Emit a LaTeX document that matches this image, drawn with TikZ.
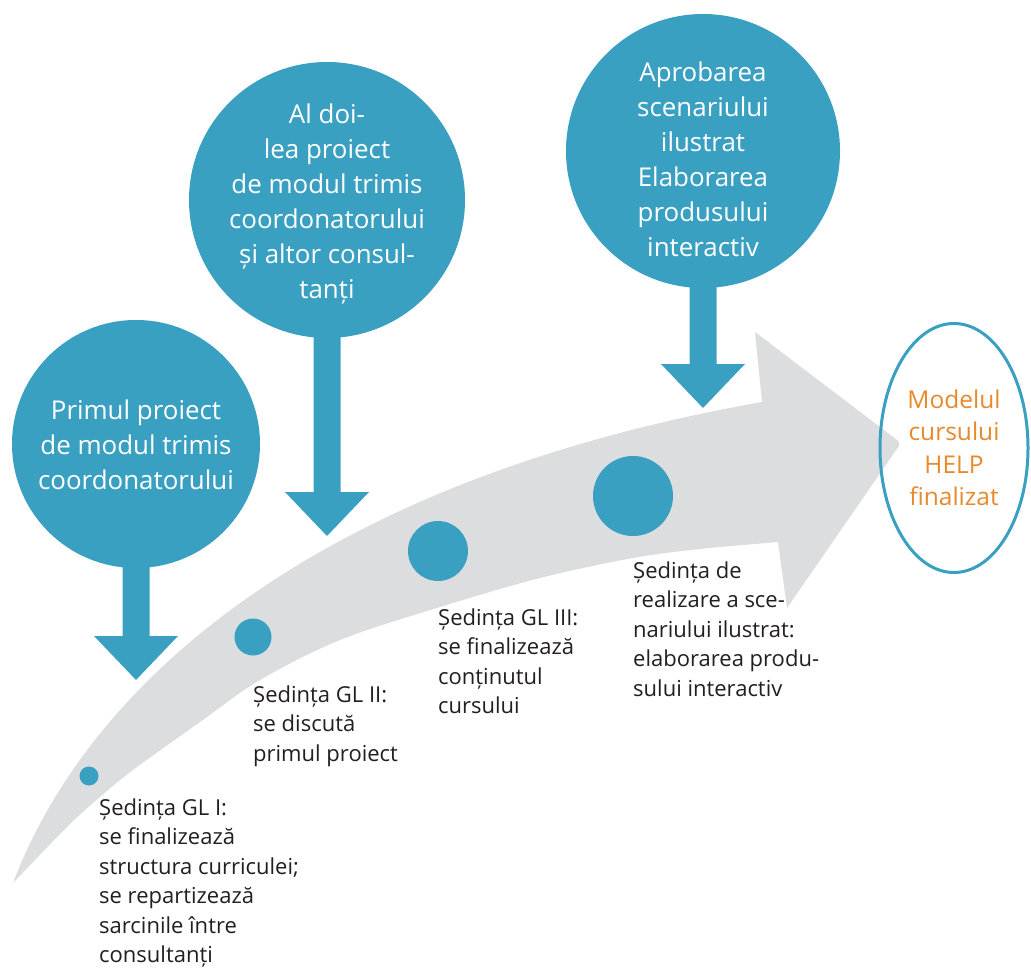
\documentclass[tikz,border=0pt]{standalone}
\usepackage{fontspec}
\setmainfont{Open Sans}
\usetikzlibrary{shapes.geometric}

\definecolor{bubbleblue}{RGB}{58,160,193}
\definecolor{bandgray}{RGB}{220,221,222}
\definecolor{labelink}{RGB}{35,31,32}
\definecolor{helporange}{RGB}{232,137,44}

% block arrow pointing down from a bubble (#1) to a tip coordinate (#2)
\newcommand\bubblepointer[2]{%
  \fill[pointer] ([shift={(-13.5,-8)}]#1.south) -- ([shift={(-13.5,-44)}]#2)
    -- ([shift={(-42,-44)}]#2) -- (#2) -- ([shift={(42,-44)}]#2)
    -- ([shift={(13.5,-44)}]#2) -- ([shift={(13.5,-8)}]#1.south) -- cycle;}

\begin{document}
\begin{tikzpicture}[x=1pt,y=-1pt,
  bubble/.style={circle, fill=bubbleblue, inner sep=0pt},
  bubbletext/.style={text=white, align=center, inner sep=0pt,
    font=\fontsize{25.9}{35}\selectfont},
  stage/.style={circle, fill=bubbleblue, inner sep=0pt},
  stagetext/.style={text=labelink, align=left, anchor=north west, inner sep=0pt,
    font=\fontsize{22}{29.5}\selectfont},
  pointer/.style={fill=bubbleblue},
  goalbox/.style={ellipse, draw=bubbleblue, line width=3pt, inner sep=0pt,
    text=helporange, align=center, font=\fontsize{24.5}{32.5}\selectfont}
]
\fill[white] (0,0) rectangle (1031,968);
\useasboundingbox (0,0) rectangle (1031,968);

% curved grey timeline arrow
\fill[bandgray]
  (13,883) .. controls (90,680) and (320,480) .. (762,402)
  -- (755,332) [rounded corners=4pt] -- (901,443) [sharp corners] -- (787,608) -- (778,542)
  -- plot[smooth, tension=0.55] coordinates {(778,542) (700,549) (633,558) (540,578)
    (440,607) (340,640) (260,680) (200,722) (133,770) (100,797) (67,827) (13,883)}
  -- cycle;

% meeting dots on the timeline
\node[stage, minimum size=19pt] (d1) at (89,776) {};
\node[stage, minimum size=37pt] (d2) at (253,637) {};
\node[stage, minimum size=60pt] (d3) at (438,551) {};
\node[stage, minimum size=80pt] (d4) at (633,496) {};

% milestone bubbles
\node[bubble, minimum size=248pt] (c1) at (136,444) {};
\node[bubble, minimum size=276pt] (c2) at (327,200) {};
\node[bubble, minimum size=274pt] (c3) at (703,151) {};

\node[bubbletext] (c1t) at (136,445)
  {Primul proiect\\de modul trimis\\coordonatorului};
\node[bubbletext] (c2t) at (327,204)
  {Al doi-\\lea proiect\\de modul trimis\\coordonatorului\\și altor consul-\\tanți};
\node[bubbletext] (c3t) at (703,159)
  {Aprobarea\\scenariului\\ilustrat\\Elaborarea\\produsului\\interactiv};

% pointers from bubbles down to the timeline
\coordinate (t1) at (136,680);
\coordinate (t2) at (327,536);
\coordinate (t3) at (703,408);
\bubblepointer{c1}{t1}
\bubblepointer{c2}{t2}
\bubblepointer{c3}{t3}

% meeting descriptions
\node[stagetext] (s1) at (99,798.3)
  {Ședința GL I:\\se finalizează\\structura curriculei;\\se repartizează\\sarcinile între\\consultanți};
\node[stagetext] (s2) at (253,685.3)
  {Ședința GL II:\\se discută\\primul proiect};
\node[stagetext] (s3) at (438,608.3)
  {Ședința GL III:\\se finalizează\\conținutul\\cursului};
\node[stagetext] (s4) at (633,561.3)
  {Ședința de\\realizare a sce-\\nariului ilustrat:\\elaborarea produ-\\sului interactiv};

% final result
\node[goalbox, minimum width=148pt, minimum height=249pt] (goal) at (954,448)
  {Modelul\\cursului\\HELP\\finalizat};
\end{tikzpicture}
\end{document}
